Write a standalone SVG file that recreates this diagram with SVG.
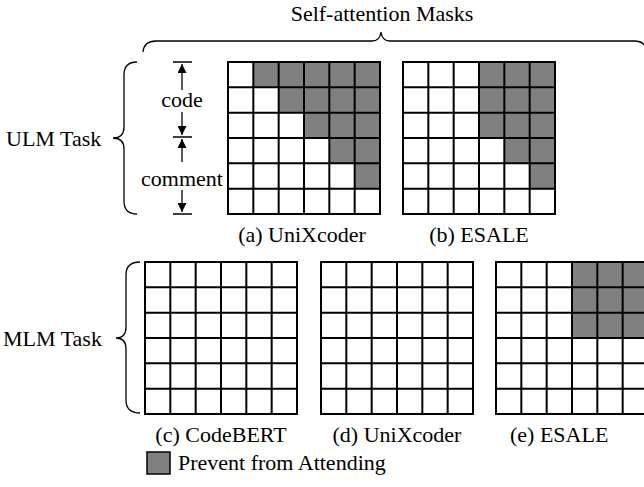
<svg xmlns="http://www.w3.org/2000/svg" xmlns:xlink="http://www.w3.org/1999/xlink" width="644" height="487" viewBox="0 0 644 487">
<style>
text{font-family:"Liberation Serif","Times New Roman",serif;font-size:22px;fill:#000}
.g{fill:#808080}
.grid{fill:none;stroke:#000;stroke-width:2}
.brace{fill:none;stroke:#000;stroke-width:1.3}
.arr{stroke:#000;stroke-width:1.3;fill:none}
.bar{stroke:#000;stroke-width:1.5}
</style>
<defs>
<marker id="ah" viewBox="0 0 10 10" refX="10" refY="5" markerWidth="10" markerHeight="9" markerUnits="userSpaceOnUse" orient="auto">
<path d="M0,0 L10,5 L0,10 Z" fill="#000"/>
</marker>
<g id="gridlines">
<rect x="0" y="0" width="152" height="152" fill="none"/>
<path d="M25.33,0V152M50.67,0V152M76,0V152M101.33,0V152M126.67,0V152M0,25.33H152M0,50.67H152M0,76H152M0,101.33H152M0,126.67H152"/>
</g>
</defs>
<g id="title"><text x="382" y="21" text-anchor="middle">Self-attention Masks</text></g>
<g id="connectors">
<path class="brace" d="M143,52 Q144,41 156,41 L372,41 Q380,41 381,32 Q382,41 390,41 L634,41 Q646,41 647,52"/>
<path class="brace" d="M137,62 Q124,62 124,75 L124,127 Q124,138 113,138 Q124,138 124,149 L124,201 Q124,214 137,214"/>
<path class="brace" d="M140,262 Q126,262 126,275 L126,327 Q126,338 116,338 Q126,338 126,349 L126,400 Q126,413 140,413"/>
<line class="bar" x1="173" y1="62" x2="192" y2="62"/>
<line class="bar" x1="173" y1="137" x2="192" y2="137"/>
<line class="bar" x1="173" y1="214" x2="192" y2="214"/>
<line class="arr" x1="182" y1="90" x2="182" y2="64" marker-end="url(#ah)"/>
<line class="arr" x1="182" y1="112" x2="182" y2="135" marker-end="url(#ah)"/>
<line class="arr" x1="182" y1="162" x2="182" y2="139" marker-end="url(#ah)"/>
<line class="arr" x1="182" y1="190" x2="182" y2="212" marker-end="url(#ah)"/>
</g>
<g id="ulm-label"><text x="6" y="146">ULM Task</text></g>
<g id="mlm-label"><text x="3" y="346">MLM Task</text></g>
<g id="code-label"><text x="182" y="107" text-anchor="middle">code</text></g>
<g id="comment-label"><text x="141" y="186">comment</text></g>
<g id="mask-a" transform="translate(228,62)">
<rect x="0" y="0" width="152" height="152" fill="#fff"/>
<rect class="g" x="25.33" y="0" width="126.67" height="25.33"/>
<rect class="g" x="50.67" y="25.33" width="101.33" height="25.33"/>
<rect class="g" x="76" y="50.67" width="76" height="25.33"/>
<rect class="g" x="101.33" y="76" width="50.67" height="25.33"/>
<rect class="g" x="126.67" y="101.33" width="25.33" height="25.33"/>
<use xlink:href="#gridlines" class="grid"/>
</g>
<g id="label-a"><text x="302" y="242" text-anchor="middle">(a) UniXcoder</text></g>
<g id="mask-b" transform="translate(403,62)">
<rect x="0" y="0" width="152" height="152" fill="#fff"/>
<rect class="g" x="76" y="0" width="76" height="76"/>
<rect class="g" x="101.33" y="76" width="50.67" height="25.33"/>
<rect class="g" x="126.67" y="101.33" width="25.33" height="25.33"/>
<use xlink:href="#gridlines" class="grid"/>
</g>
<g id="label-b"><text x="479" y="242" text-anchor="middle">(b) ESALE</text></g>
<g id="mask-c" transform="translate(145,262)">
<rect x="0" y="0" width="152" height="152" fill="#fff"/>
<use xlink:href="#gridlines" class="grid"/>
</g>
<g id="label-c"><text x="221" y="442" text-anchor="middle">(c) CodeBERT</text></g>
<g id="mask-d" transform="translate(321,262)">
<rect x="0" y="0" width="152" height="152" fill="#fff"/>
<use xlink:href="#gridlines" class="grid"/>
</g>
<g id="label-d"><text x="397" y="442" text-anchor="middle">(d) UniXcoder</text></g>
<g id="mask-e" transform="translate(496,262)">
<rect x="0" y="0" width="152" height="152" fill="#fff"/>
<rect class="g" x="76" y="0" width="76" height="76"/>
<use xlink:href="#gridlines" class="grid"/>
</g>
<g id="label-e"><text x="510" y="442">(e) ESALE</text></g>
<g id="legend">
<rect x="147" y="452" width="23" height="22" fill="#808080" stroke="#000" stroke-width="1.5"/>
<text x="178" y="470">Prevent from Attending</text>
</g>
</svg>
